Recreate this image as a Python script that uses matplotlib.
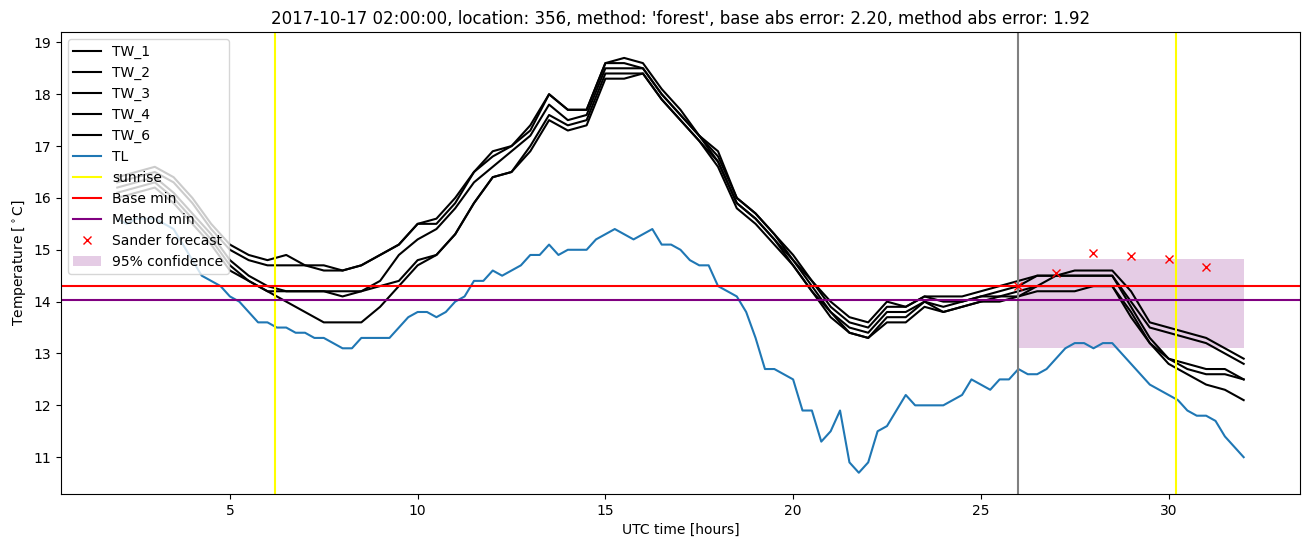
import numpy as np
import matplotlib
matplotlib.use("Agg")
import matplotlib.pyplot as plt

# time axis (hours since 00 UTC of the day)
hours_tl = np.arange(2.0, 32.01, 0.25)
hours_tw = np.arange(2.0, 32.01, 0.5)

# air temperature TL, one value every 15 min
tl = [15.6, 15.5, 15.6, 15.6,  15.6, 15.5, 15.4, 15.1,  14.8, 14.5, 14.4, 14.3,
      14.1, 14.0, 13.8, 13.6,  13.6, 13.5, 13.5, 13.4,  13.4, 13.3, 13.3, 13.2,
      13.1, 13.1, 13.3, 13.3,  13.3, 13.3, 13.5, 13.7,  13.8, 13.8, 13.7, 13.8,
      14.0, 14.1, 14.4, 14.4,  14.6, 14.5, 14.6, 14.7,  14.9, 14.9, 15.1, 14.9,
      15.0, 15.0, 15.0, 15.2,  15.3, 15.4, 15.3, 15.2,  15.3, 15.4, 15.1, 15.1,
      15.0, 14.8, 14.7, 14.7,  14.3, 14.2, 14.1, 13.8,  13.3, 12.7, 12.7, 12.6,
      12.5, 11.9, 11.9, 11.3,  11.5, 11.9, 10.9, 10.7,  10.9, 11.5, 11.6, 11.9,
      12.2, 12.0, 12.0, 12.0,  12.0, 12.1, 12.2, 12.5,  12.4, 12.3, 12.5, 12.5,
      12.7, 12.6, 12.6, 12.7,  12.9, 13.1, 13.2, 13.2,  13.1, 13.2, 13.2, 13.0,
      12.8, 12.6, 12.4, 12.3,  12.2, 12.1, 11.9, 11.8,  11.8, 11.7, 11.4, 11.2,
      11.0]

# wet-bulb style sensors TW_x, one value every 30 min
tw_1 = [16.4, 16.5, 16.6, 16.4, 16.0, 15.5, 15.1, 14.9, 14.8, 14.9, 14.7, 14.7,
        14.6, 14.7, 14.9, 15.1, 15.5, 15.6, 16.0, 16.5, 16.9, 17.0, 17.4, 18.0,
        17.7, 17.7, 18.6, 18.7, 18.6, 18.1, 17.7, 17.2, 16.9, 16.0, 15.7, 15.3,
        14.9, 14.4, 14.0, 13.7, 13.6, 14.0, 13.9, 14.1, 14.1, 14.1, 14.2, 14.3,
        14.4, 14.5, 14.5, 14.6, 14.6, 14.6, 14.2, 13.6, 13.5, 13.4, 13.3, 13.1,
        12.9]
tw_2 = [16.3, 16.4, 16.5, 16.3, 15.9, 15.4, 15.0, 14.8, 14.7, 14.7, 14.7, 14.6,
        14.6, 14.7, 14.9, 15.1, 15.5, 15.5, 15.9, 16.5, 16.8, 17.0, 17.3, 18.0,
        17.7, 17.7, 18.6, 18.6, 18.5, 18.0, 17.6, 17.2, 16.8, 16.0, 15.7, 15.3,
        14.8, 14.4, 13.9, 13.6, 13.5, 13.9, 13.9, 14.1, 14.0, 14.0, 14.1, 14.2,
        14.3, 14.5, 14.5, 14.5, 14.5, 14.5, 14.0, 13.5, 13.4, 13.3, 13.2, 13.0,
        12.8]
tw_3 = [16.2, 16.3, 16.4, 16.1, 15.7, 15.3, 14.8, 14.5, 14.3, 14.2, 14.2, 14.2,
        14.2, 14.2, 14.4, 14.9, 15.2, 15.4, 15.8, 16.3, 16.6, 16.9, 17.2, 17.8,
        17.5, 17.6, 18.5, 18.5, 18.5, 18.0, 17.6, 17.2, 16.7, 15.9, 15.6, 15.2,
        14.8, 14.3, 13.8, 13.5, 13.4, 13.8, 13.8, 14.0, 13.9, 14.0, 14.1, 14.1,
        14.2, 14.3, 14.5, 14.5, 14.5, 14.5, 13.9, 13.3, 12.9, 12.8, 12.7, 12.7,
        12.5]
tw_4 = [16.1, 16.2, 16.3, 16.0, 15.6, 15.2, 14.7, 14.4, 14.2, 14.2, 14.2, 14.2,
        14.1, 14.2, 14.3, 14.4, 14.8, 14.9, 15.3, 15.9, 16.4, 16.5, 17.0, 17.6,
        17.4, 17.5, 18.4, 18.4, 18.4, 17.9, 17.5, 17.1, 16.7, 15.9, 15.6, 15.2,
        14.7, 14.2, 13.8, 13.4, 13.3, 13.7, 13.7, 14.0, 13.8, 13.9, 14.0, 14.1,
        14.1, 14.3, 14.3, 14.3, 14.3, 14.3, 13.8, 13.2, 12.9, 12.7, 12.6, 12.6,
        12.5]
tw_6 = [16.0, 16.1, 16.2, 15.9, 15.5, 15.1, 14.6, 14.4, 14.2, 14.0, 13.8, 13.6,
        13.6, 13.6, 13.9, 14.3, 14.7, 14.9, 15.3, 15.9, 16.4, 16.5, 16.9, 17.5,
        17.3, 17.4, 18.3, 18.3, 18.4, 17.9, 17.5, 17.1, 16.6, 15.8, 15.5, 15.1,
        14.7, 14.2, 13.7, 13.4, 13.3, 13.6, 13.6, 13.9, 13.8, 13.9, 14.0, 14.0,
        14.1, 14.2, 14.2, 14.2, 14.3, 14.3, 13.7, 13.2, 12.8, 12.6, 12.4, 12.3,
        12.1]
tw_names = ["TW_1", "TW_2", "TW_3", "TW_4", "TW_6"]

sunrise = [6.2, 30.2]
forecast_start = 26.0
base_min = 14.30
method_min = 14.03

# Sander forecast (hourly) and its 95% band
fc_hours = [26, 27, 28, 29, 30, 31]
fc_values = [14.30, 14.56, 14.93, 14.88, 14.83, 14.66]
band_hours = [26, 32]
band_low = 13.11
band_high = 14.82

title = ("2017-10-17 02:00:00, location: 356, method: 'forest', "
         "base abs error: 2.20, method abs error: 1.92")

plt.figure(figsize=(13.11, 5.47), dpi=100)
plt.subplots_adjust(left=0.0465, right=0.9916, top=0.9415, bottom=0.0969)

for name, series in zip(tw_names, [tw_1, tw_2, tw_3, tw_4, tw_6]):
    plt.plot(hours_tw, series, color="black", label=name)
plt.plot(hours_tl, tl, color="tab:blue", label="TL")

plt.axvline(sunrise[0], color="yellow", label="sunrise")
plt.axvline(sunrise[1], color="yellow")
plt.axvline(forecast_start, color="gray")
plt.axhline(base_min, color="red", label="Base min")
plt.axhline(method_min, color="purple", label="Method min")

plt.plot(fc_hours, fc_values, "x", color="red", label="Sander forecast")
plt.fill_between(band_hours, band_low, band_high, color="purple", alpha=0.2,
                 linewidth=0, label="95% confidence")

plt.ylim(10.29, 19.2)
plt.xlabel("UTC time [hours]")
plt.ylabel(r"Temperature [$^\circ$C]")
plt.title(title)
plt.legend(loc="upper left")
plt.savefig("out.png", dpi=100)
